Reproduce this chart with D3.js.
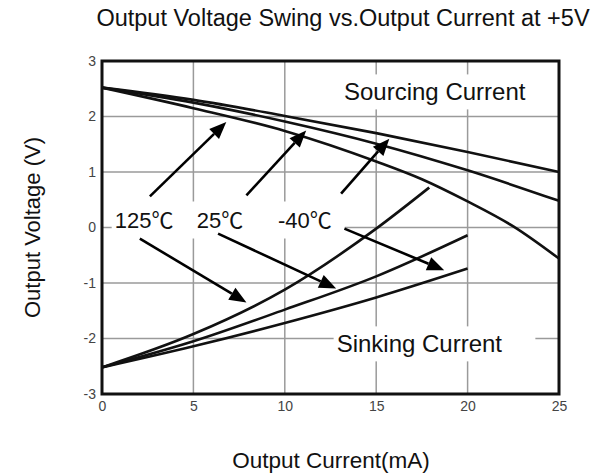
<!DOCTYPE html>
<html>
<head>
<meta charset="utf-8">
<script src="https://cdn.jsdelivr.net/npm/d3@7"></script>
<style>
  body { margin: 0; background: #fff; }
  text { font-family: "Liberation Sans", Arial, "Noto Sans CJK SC", sans-serif; }
</style>
</head>
<body>
<div id="chart"></div>
<script>
// values
const xTicks = [0, 5, 10, 15, 20, 25];
const yTicks = [-3, -2, -1, 0, 1, 2, 3];

// sourcing current, V vs mA
const srcX = [0, 5, 10, 15, 20, 25];
const srcMinus40 = [2.52, 2.30, 2.01, 1.70, 1.36, 1.00];
const src25 = [2.52, 2.25, 1.91, 1.51, 1.03, 0.48];
const src125X = [0, 5, 10, 15, 17.5, 20, 22.5, 25];
const src125 = [2.52, 2.15, 1.74, 1.19, 0.87, 0.47, 0.02, -0.56];

// sinking current
const sinkX = [0, 5, 10, 15, 20];
const sinkMinus40 = [-2.52, -2.14, -1.72, -1.26, -0.74];
const sink25 = [-2.52, -2.05, -1.48, -0.88, -0.14];
const sink125X = [0, 5, 10, 15, 17.9];
const sink125 = [-2.52, -1.92, -1.12, -0.02, 0.72];

// arrow annotations, [from, to] in data units
const arrows = [
  [[2.62, 0.56], [6.8, 1.90]],
  [[7.9, 0.58], [11.17, 1.75]],
  [[13.08, 0.61], [15.72, 1.60]],
  [[2.07, -0.20], [7.9, -1.35]],
  [[6.35, -0.11], [12.81, -1.10]],
  [[13.26, -0.02], [18.72, -0.77]],
];
const tempLabels = ['125℃', '25℃', '-40℃'];
const tempLabelX = [2.3, 6.45, 11.1];

const width = 606;
const height = 475;
const plot = { left: 102, right: 559, top: 61, bottom: 394 };

const svg = d3.select('#chart')
  .append('svg')
  .attr('width', width)
  .attr('height', height);

const x = d3.scaleLinear().domain([0, 25]).range([plot.left, plot.right]);
const y = d3.scaleLinear().domain([-3, 3]).range([plot.bottom, plot.top]);

// grid
const grid = svg.append('g')
  .attr('stroke', '#9a9a9a')
  .attr('stroke-width', 1.5);
grid.selectAll('.gx')
  .data(xTicks.slice(1, -1))
  .enter().append('line')
    .attr('x1', d => x(d)).attr('x2', d => x(d))
    .attr('y1', plot.top).attr('y2', plot.bottom);
grid.selectAll('.gy')
  .data(yTicks.slice(1, -1))
  .enter().append('line')
    .attr('x1', plot.left).attr('x2', plot.right)
    .attr('y1', d => y(d)).attr('y2', d => y(d));

// white boxes behind the labels cut the grid
const boxes = svg.append('g').attr('fill', '#fff');
const labels = svg.append('g').attr('fill', '#111');

function label(text, cx, cy, size) {
  return labels.append('text')
    .attr('x', x(cx))
    .attr('y', y(cy))
    .attr('text-anchor', 'middle')
    .attr('font-size', size)
    .text(text);
}
function boxAround(nodes, padX, padY, extraRight = 0) {
  const bb = nodes.map(n => n.node().getBBox());
  const x0 = d3.min(bb, b => b.x) - padX;
  const x1 = d3.max(bb, b => b.x + b.width) + padX + extraRight;
  const y0 = d3.min(bb, b => b.y) - padY;
  const y1 = d3.max(bb, b => b.y + b.height) + padY;
  boxes.append('rect')
    .attr('x', x0).attr('y', y0)
    .attr('width', x1 - x0).attr('height', y1 - y0);
}

const sourcing = label('Sourcing Current', 18.2, 2.29, 24);
boxAround([sourcing], 4, 4);
const sinking = label('Sinking Current', 17.36, -2.25, 24);
boxAround([sinking], 3, 4, 30);
const temps = tempLabels.map((t, i) => label(t, tempLabelX[i], 0.0, 22));
boxAround(temps, 3, 6, 10);

// curves
const curves = svg.append('g')
  .attr('fill', 'none')
  .attr('stroke', '#111')
  .attr('stroke-width', 2.6);
const line = d3.line()
  .curve(d3.curveMonotoneX)
  .x(d => x(d[0]))
  .y(d => y(d[1]));
[
  [srcX, srcMinus40],
  [srcX, src25],
  [src125X, src125],
  [sinkX, sinkMinus40],
  [sinkX, sink25],
  [sink125X, sink125],
].forEach(([xs, ys]) => {
  curves.append('path').attr('d', line(xs.map((v, i) => [v, ys[i]])));
});

// arrows
const arrowG = svg.append('g').attr('fill', '#000').attr('stroke', '#000');
arrows.forEach(([from, to]) => {
  const x0 = x(from[0]), y0 = y(from[1]);
  const x1 = x(to[0]), y1 = y(to[1]);
  const ang = Math.atan2(y1 - y0, x1 - x0);
  const len = 17, half = 7;
  const bx = x1 - len * Math.cos(ang), by = y1 - len * Math.sin(ang);
  arrowG.append('line')
    .attr('x1', x0).attr('y1', y0)
    .attr('x2', bx).attr('y2', by)
    .attr('stroke-width', 2.6);
  arrowG.append('path')
    .attr('stroke', 'none')
    .attr('d', `M${x1},${y1}L${bx + half * Math.sin(ang)},${by - half * Math.cos(ang)}L${bx - half * Math.sin(ang)},${by + half * Math.cos(ang)}Z`);
});

// frame
svg.append('rect')
  .attr('x', plot.left).attr('y', plot.top)
  .attr('width', plot.right - plot.left)
  .attr('height', plot.bottom - plot.top)
  .attr('fill', 'none')
  .attr('stroke', '#111')
  .attr('stroke-width', 3);

// axes, tick labels only
const xAxis = svg.append('g')
  .attr('transform', `translate(0, ${plot.bottom})`)
  .call(d3.axisBottom(x).tickValues(xTicks).tickFormat(d => String(d)).tickSize(0).tickPadding(7));
const yAxis = svg.append('g')
  .attr('transform', `translate(${plot.left}, 0)`)
  .call(d3.axisLeft(y).tickValues(yTicks).tickFormat(d => String(d)).tickSize(0).tickPadding(6));
[xAxis, yAxis].forEach(a => {
  a.select('.domain').remove();
  a.selectAll('text')
    .attr('font-size', 14)
    .attr('fill', '#444')
    .style('font-family', '"Liberation Sans", Arial, sans-serif');
});

// titles
svg.append('text')
  .attr('x', 343).attr('y', 26)
  .attr('text-anchor', 'middle')
  .attr('font-size', 23.5)
  .attr('fill', '#111')
  .text('Output Voltage Swing vs.Output Current at +5V');
svg.append('text')
  .attr('x', 331).attr('y', 468)
  .attr('text-anchor', 'middle')
  .attr('font-size', 22.5)
  .attr('fill', '#111')
  .text('Output Current(mA)');
svg.append('text')
  .attr('transform', `translate(40, ${y(0)}) rotate(-90)`)
  .attr('text-anchor', 'middle')
  .attr('font-size', 22)
  .attr('fill', '#111')
  .text('Output Voltage (V)');
</script>
</body>
</html>
